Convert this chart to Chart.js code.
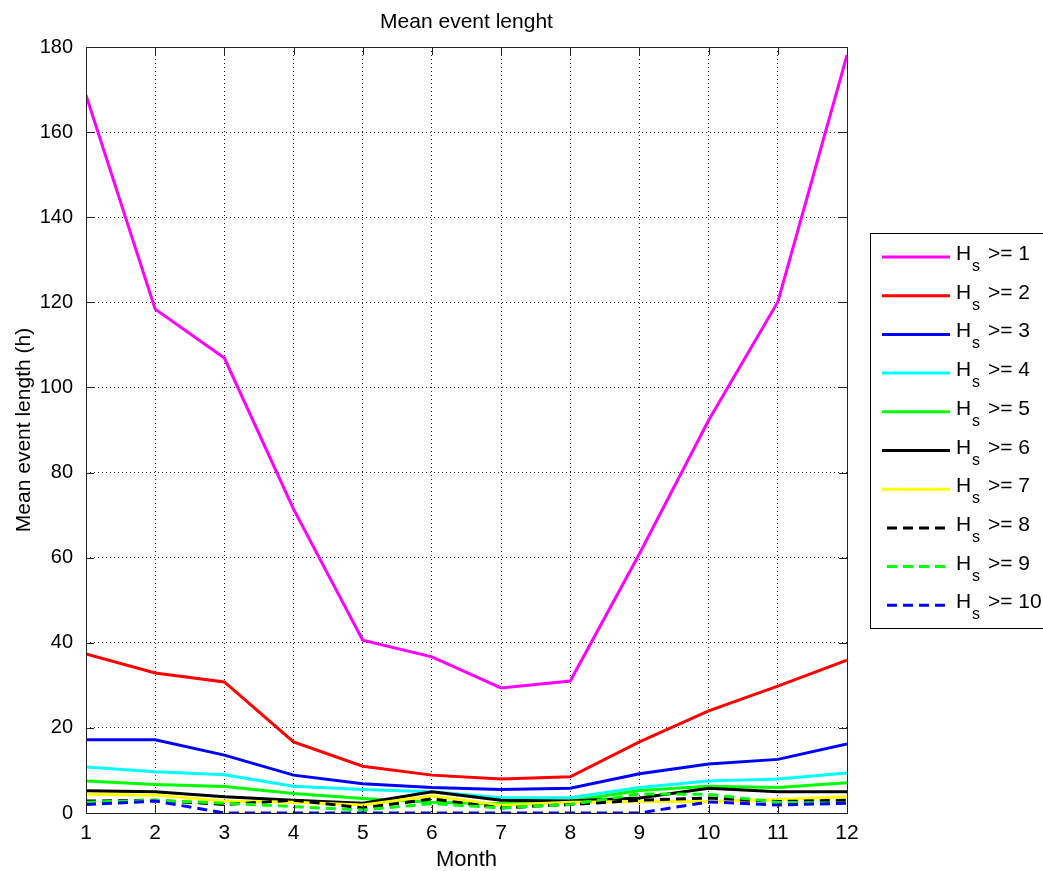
<!DOCTYPE html>
<html>
<head>
<meta charset="utf-8">
<title>Mean event lenght</title>
<script src="https://cdn.jsdelivr.net/npm/chart.js@4/dist/chart.umd.min.js"></script>
<style>
  html, body { margin: 0; padding: 0; background: #fff; }
  #wrap { width: 1043px; height: 871px; position: relative; }
</style>
</head>
<body>
<div id="wrap"><canvas id="c" width="1043" height="871"></canvas></div>
<script>
// Months on the x axis
const months = [1, 2, 3, 4, 5, 6, 7, 8, 9, 10, 11, 12];
const yTicks = [0, 20, 40, 60, 80, 100, 120, 140, 160, 180];

// Mean event length (hours) per month for each Hs threshold
const hs1  = [168.7, 118.4, 106.9, 71.4, 40.6, 36.7, 29.4, 31.0, 60.9, 92.3, 120.1, 178.1];
const hs2  = [37.4, 32.9, 30.8, 16.7, 11.0, 8.9, 8.0, 8.5, 16.7, 24.0, 29.8, 35.9];
const hs3  = [17.2, 17.2, 13.6, 8.9, 6.9, 6.0, 5.5, 5.8, 9.2, 11.5, 12.6, 16.2];
const hs4  = [10.8, 9.7, 9.0, 6.3, 5.5, 5.0, 3.6, 3.6, 6.0, 7.5, 8.0, 9.4];
const hs5  = [7.5, 6.7, 6.2, 4.6, 3.4, 2.5, 2.2, 2.8, 5.3, 6.3, 6.0, 7.1];
const hs6  = [5.2, 5.0, 3.8, 3.0, 2.3, 5.0, 3.0, 2.8, 3.5, 5.8, 5.0, 5.0];
const hs7  = [4.4, 4.2, 2.8, 2.5, 1.9, 4.0, 1.8, 2.5, 2.7, 2.7, 3.2, 3.8];
const hs8  = [2.8, 3.0, 2.0, 3.0, 1.2, 3.3, 1.2, 2.0, 3.0, 3.5, 2.7, 3.0];
const hs9  = [2.5, 3.0, 2.3, 1.5, 0.7, 2.2, 1.2, 2.0, 4.5, 4.4, 2.5, 2.3];
const hs10 = [2.0, 2.8, 0.0, 0.0, 0.0, 0.0, 0.0, 0.0, 0.0, 2.6, 1.9, 2.3];

const thresholds = ['1', '2', '3', '4', '5', '6', '7', '8', '9', '10'];
const seriesValues = [hs1, hs2, hs3, hs4, hs5, hs6, hs7, hs8, hs9, hs10];
const colors = ['#ff00ff', '#ff0000', '#0000ff', '#00ffff', '#00ff00',
                '#000000', '#ffff00', '#000000', '#00ff00', '#0000ff'];
const dashed = [false, false, false, false, false, false, false, true, true, true];

const FONT = '"Liberation Sans", Arial, Helvetica, sans-serif';
const LINE_W = 3;
const DASH = [10, 6];

const datasets = seriesValues.map((vals, i) => ({
  label: 'Hs >= ' + thresholds[i],
  data: months.map((m, k) => ({ x: m, y: vals[k] })),
  borderColor: colors[i],
  backgroundColor: colors[i],
  borderWidth: LINE_W,
  borderDash: dashed[i] ? DASH : [],
  pointRadius: 0,
  tension: 0,
  fill: false,
  order: -i   // later series drawn on top
}));

// Frame, inward ticks, titles and legend
const decorations = {
  id: 'decorations',
  afterDraw(chart) {
    const ctx = chart.ctx;
    const a = chart.chartArea;
    const xs = chart.scales.x, ys = chart.scales.y;
    ctx.save();

    // plot frame
    ctx.strokeStyle = '#222';
    ctx.lineWidth = 1;
    ctx.setLineDash([]);
    ctx.strokeRect(Math.round(a.left) + 0.5, Math.round(a.top) + 0.5,
                   Math.round(a.right - a.left), Math.round(a.bottom - a.top));

    // inward tick marks
    const tl = 8;
    ctx.beginPath();
    months.forEach(m => {
      const px = Math.round(xs.getPixelForValue(m)) + 0.5;
      ctx.moveTo(px, a.bottom); ctx.lineTo(px, a.bottom - tl);
      ctx.moveTo(px, a.top); ctx.lineTo(px, a.top + tl);
    });
    yTicks.forEach(v => {
      const py = Math.round(ys.getPixelForValue(v)) + 0.5;
      ctx.moveTo(a.left, py); ctx.lineTo(a.left + tl, py);
      ctx.moveTo(a.right, py); ctx.lineTo(a.right - tl, py);
    });
    ctx.stroke();

    // titles
    ctx.fillStyle = '#000';
    ctx.textAlign = 'center';
    ctx.textBaseline = 'alphabetic';
    ctx.font = '21px ' + FONT;
    const cx = (a.left + a.right) / 2;
    ctx.fillText('Mean event lenght', cx, 28);
    ctx.font = '22px ' + FONT;
    ctx.fillText('Month', cx, 866);
    ctx.save();
    ctx.font = '21px ' + FONT;
    ctx.translate(30, (a.top + a.bottom) / 2);
    ctx.rotate(-Math.PI / 2);
    ctx.fillText('Mean event length (h)', 0, 0);
    ctx.restore();

    // legend box
    const lx = 870, ly = 233, lw = 200, lh = 395;
    ctx.fillStyle = '#fff';
    ctx.fillRect(lx, ly, lw, lh);
    ctx.strokeStyle = '#000';
    ctx.lineWidth = 1;
    ctx.strokeRect(lx + 0.5, ly + 0.5, lw, lh);

    const rowStep = 38.7;
    datasets.forEach((ds, i) => {
      const y = 257 + i * rowStep;
      ctx.strokeStyle = ds.borderColor;
      ctx.lineWidth = LINE_W;
      ctx.setLineDash(ds.borderDash);
      ctx.beginPath();
      if (ds.borderDash.length) {
        ctx.moveTo(887, y); ctx.lineTo(951, y);
      } else {
        ctx.moveTo(882, y); ctx.lineTo(950, y);
      }
      ctx.stroke();
      ctx.setLineDash([]);

      ctx.fillStyle = '#000';
      ctx.textAlign = 'left';
      ctx.font = '21px ' + FONT;
      ctx.fillText('H', 956, y + 3);
      ctx.font = '16px ' + FONT;
      ctx.fillText('s', 972, y + 14);
      ctx.font = '21px ' + FONT;
      ctx.fillText('>= ' + thresholds[i], 988, y + 3);
    });

    ctx.restore();
  }
};

new Chart(document.getElementById('c'), {
  type: 'line',
  data: { datasets },
  options: {
    responsive: false,
    animation: false,
    devicePixelRatio: 1,
    layout: { padding: { left: 0, right: 196, top: 47, bottom: 0 } },
    plugins: {
      legend: { display: false },
      title: { display: false },
      tooltip: { enabled: false }
    },
    scales: {
      x: {
        type: 'linear',
        min: 1, max: 12,
        afterFit(scale) { scale.height = 58; },
        afterBuildTicks(scale) { scale.ticks = months.map(v => ({ value: v })); },
        ticks: {
          color: '#000',
          font: { family: FONT, size: 21 },
          padding: 8,
          maxRotation: 0,
          autoSkip: false
        },
        grid: { color: 'rgba(0,0,0,0.85)', lineWidth: 1, drawTicks: false },
        border: { display: false, dash: [1, 3] }
      },
      y: {
        type: 'linear',
        min: 0, max: 180,
        afterFit(scale) { scale.width = 86; },
        afterBuildTicks(scale) { scale.ticks = yTicks.map(v => ({ value: v })); },
        ticks: {
          color: '#000',
          font: { family: FONT, size: 20 },
          padding: 13,
          autoSkip: false
        },
        grid: { color: 'rgba(0,0,0,0.85)', lineWidth: 1, drawTicks: false },
        border: { display: false, dash: [1, 3] }
      }
    }
  },
  plugins: [decorations]
});
</script>
</body>
</html>
